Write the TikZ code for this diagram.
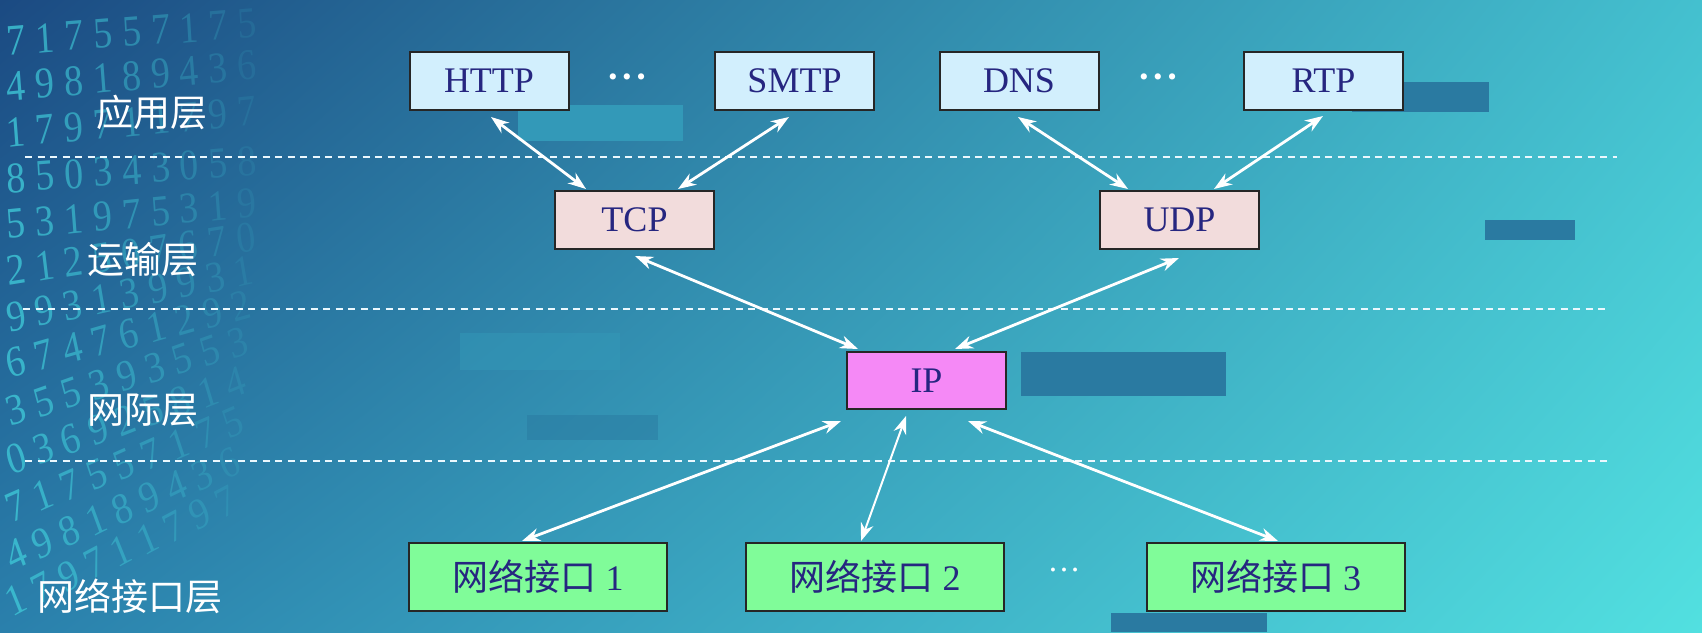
\documentclass[tikz,border=0pt]{standalone}
\usepackage{fontspec}
\setmainfont{Liberation Serif}
\newfontfamily\cjk{Noto Sans CJK SC}
\usepackage{tikz}
\usetikzlibrary{arrows.meta, positioning, shadings}

\definecolor{bgUL}{HTML}{1B4A82}
\definecolor{bgUR}{HTML}{44C0CF}
\definecolor{bgLL}{HTML}{2A80AC}
\definecolor{bgLR}{HTML}{52E0E0}
\definecolor{digitcyan}{HTML}{3EC6D6}
\definecolor{boxtext}{HTML}{262680}
\definecolor{appfill}{HTML}{D2EFFD}
\definecolor{transfill}{HTML}{F2DCDC}
\definecolor{ipfill}{HTML}{F589F6}
\definecolor{netfill}{HTML}{80FC99}
\definecolor{patchdark}{HTML}{2A7AA1}
\definecolor{patchlight}{HTML}{3399B8}

\tikzset{
    box/.style={draw=black!85, line width=2pt, minimum width=159pt, minimum height=58pt,
        inner sep=0pt, text=boxtext, font=\fontsize{36}{40}\selectfont},
    appbox/.style={box, fill=appfill},
    transbox/.style={box, fill=transfill},
    ipbox/.style={box, fill=ipfill, minimum height=57pt},
    netbox/.style={box, fill=netfill, minimum width=258pt, minimum height=68pt},
    layername/.style={text=white, font=\cjk\fontsize{37}{40}\selectfont},
    layerline/.style={draw=white!92!cyan, line width=2.6pt, dash pattern=on 7pt off 5.5pt},
    biarrow/.style={draw=white, line width=2.8pt,
        {Stealth[length=18pt,width=13pt]}-{Stealth[length=18pt,width=13pt]}},
    digit/.style={text=digitcyan, font=\fontsize{38}{38}\selectfont, inner sep=0pt, yscale=1.15},
    dots/.style={text=white, font=\fontsize{26}{26}\selectfont},
}

\begin{document}
\begin{tikzpicture}[x=1pt, y=-1pt]
    \useasboundingbox (0,0) rectangle (1702,632);
    \shade[upper left=bgUL, upper right=bgUR, lower left=bgLL, lower right=bgLR]
        (0,0) rectangle (1702,632);

    % digits on the left
    \foreach \ry/\ra [count=\k] in {40/4, 86/5, 132/5, 178/4, 224/5, 270/8, 316/11,
            362/14, 410/17, 458/19, 506/21, 554/23, 600/25}{
        \foreach \i in {0,...,8}{
            \pgfmathsetmacro\px{16+\i*29*cos(\ra)}
            \pgfmathsetmacro\py{\ry-\i*29*sin(\ra)}
            \pgfmathsetmacro\op{max(0,0.85*(1-\px/290))}
            \pgfmathtruncatemacro\dg{mod(\k*7+\i*3+\k*\i*\i,10)}
            \node[digit, rotate=\ra, opacity=\op] (d\k-\i) at (\px,\py) {\dg};
        }
    }

    % patches
    \fill[patchlight] (518,105) rectangle (683,141);
    \fill[patchdark] (1352,82) rectangle (1489,112);
    \fill[patchdark] (1485,220) rectangle (1575,240);
    \fill[patchlight, opacity=0.5] (460,333) rectangle (620,370);
    \fill[patchdark] (1021,352) rectangle (1226,396);
    \fill[patchdark, opacity=0.5] (527,415) rectangle (658,440);
    \fill[patchdark] (1111,613) rectangle (1267,632);

    % layers
    \draw[layerline] (25,157) -- (1617,157);
    \draw[layerline] (23,309) -- (1607,309);
    \draw[layerline] (25,461) -- (1607,461);

    \node[layername] (app) at (152,112) {应用层};
    \node[layername] (trans) at (143,260) {运输层};
    \node[layername] (inet) at (143,410) {网际层};
    \node[layername] (link) at (130,596) {网络接口层};

    % boxes
    \node[appbox] (http) at (489,81) {HTTP};
    \node[appbox] (smtp) at (794.5,81) {SMTP};
    \node[appbox] (dns) at (1019,81) {DNS};
    \node[appbox] (rtp) at (1323.5,81) {RTP};
    \node[dots] (dotsA) at (627,80) {\textbullet\kern5pt\textbullet\kern5pt\textbullet};
    \node[dots] (dotsB) at (1158,80) {\textbullet\kern5pt\textbullet\kern5pt\textbullet};

    \node[transbox] (tcp) at (634.5,220) {TCP};
    \node[transbox] (udp) at (1179.5,220) {UDP};

    \node[ipbox] (ip) at (926.5,380.5) {IP};

    \node[netbox] (ni1) at (538,577) {{\cjk 网络接口}~1};
    \node[netbox] (ni2) at (875,577) {{\cjk 网络接口}~2};
    \node[netbox] (ni3) at (1275.5,577) {{\cjk 网络接口}~3};
    \node[dots, font=\fontsize{33}{33}\selectfont] (dotsC) at (1064,570) {\ldots};

    % arrows
    \draw[biarrow] ([shift={(2,6)}]http.south) -- ([shift={(-48.5,-1)}]tcp.north);
    \draw[biarrow] ([shift={(-5.5,6)}]smtp.south) -- ([shift={(43.5,-1)}]tcp.north);
    \draw[biarrow] ([shift={(-1,6)}]dns.south) -- ([shift={(-51.5,-1)}]udp.north);
    \draw[biarrow] ([shift={(-0.5,5)}]rtp.south) -- ([shift={(34.5,-1)}]udp.north);
    \draw[biarrow] ([shift={(0.5,6)}]tcp.south) -- ([shift={(-68.5,-2)}]ip.north);
    \draw[biarrow] ([shift={(-0.5,8)}]udp.south) -- ([shift={(28.5,-2)}]ip.north);
    \draw[biarrow] ([shift={(-85.5,11)}]ip.south) -- ([shift={(-16,-1)}]ni1.north);
    \draw[biarrow, line width=2pt] ([shift={(-20.5,6)}]ip.south) -- ([shift={(-14,-1)}]ni2.north);
    \draw[biarrow] ([shift={(41.5,11)}]ip.south) -- ([shift={(2.5,-1)}]ni3.north);
\end{tikzpicture}
\end{document}
